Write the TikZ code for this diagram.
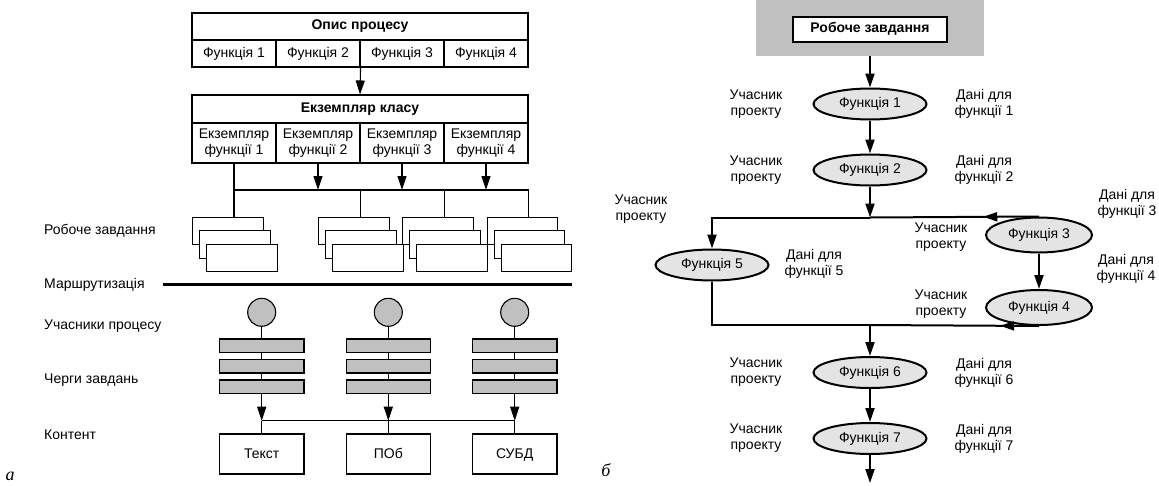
\documentclass[tikz,border=0pt]{standalone}
\usepackage{fontspec}
\setmainfont{Liberation Sans}
\newfontfamily\sigfont{Liberation Serif}
\usetikzlibrary{arrows.meta,shapes.geometric,decorations.markings}
\definecolor{qgray}{HTML}{C0C0C0}
\definecolor{fgray}{HTML}{E4E4E4}
\tikzset{
  font={\fontsize{14pt}{16pt}\selectfont}}

\begin{document}
\begin{tikzpicture}[x=1pt,y=1pt]
\tikzstyle{every node}+=[inner sep=0pt]
\tikzstyle{cell}=[draw,line width=1.1pt,fill=white,minimum width=84pt,minimum height=27pt]
\tikzstyle{zbox}=[draw,line width=1.1pt,fill=white,minimum width=70.5pt,minimum height=27.5pt,anchor=north west]
\tikzstyle{qbar}=[draw,line width=1.1pt,fill=qgray,minimum width=84.5pt,minimum height=13.5pt]
\tikzstyle{fn}=[ellipse,draw,line width=2pt,fill=fgray,minimum width=113pt,minimum height=31pt]
\tikzstyle{lbl}=[align=center]
\tikzstyle{arr}=[line width=1.1pt,-{Triangle[length=14pt,width=9pt]}]
\tikzstyle{rarr}=[line width=2pt,-{Triangle[length=14pt,width=9pt]}]
\useasboundingbox (0,0) rectangle (1159,-485);

% a
\node[cell,minimum width=336pt] (opys) at (360,-26.5) {\bfseries Опис процесу};
\foreach \i/\x in {1/234,2/318,3/402,4/486}
  \node[cell] (f\i) at (\x,-53.5) {Функція \i};
\node[cell,minimum width=336pt,minimum height=28pt] (klas) at (360,-109) {\bfseries Екземпляр класу};
\foreach \i/\x in {1/234,2/318,3/402,4/486}
  \node[cell,minimum height=40pt,align=center] (e\i) at (\x,-143) {Екземпляр\\функції \i};
\draw[arr] (f2.south east) -- (klas.north);

\foreach \i/\x in {1/192,2/318,3/402,4/486.7} {
  \node[zbox] (s\i-a) at (\x,-216.7) {};
  \node[zbox] (s\i-b) at (\x+7,-230) {};
  \node[zbox] (s\i-c) at (\x+14,-243.5) {};
}
\coordinate (bus) at (0,-190);
\draw[line width=1.1pt] (e1.south) -- (s1-a.north -| e1.south);
\draw[line width=1.1pt] (e1.south |- bus) -- (bus -| e4.south east);
\foreach \i in {2,3,4}
  \draw[arr] (e\i.south) -- (e\i.south |- bus);
\draw[line width=1.1pt] (bus -| e2.south east) -- (s2-a.north -| e2.south east);
\draw[line width=1.1pt] (bus -| e3.south east) -- (s3-a.north -| e3.south east);
\draw[line width=1.1pt] (bus -| e4.south east) -- (s4-a.north -| e4.south east);

\coordinate (r1) at (162.7,-284.7);
\coordinate (r2) at (572,-284.7);
\draw[line width=3.5pt] (r1) -- (r2);

\coordinate (bus2) at (0,-420.7);
\foreach \i/\x/\t in {1/261.7/Текст,2/388.3/ПОб,3/514.7/СУБД} {
  \node[circle,draw,line width=1.1pt,fill=qgray,minimum size=28pt] (p\i) at (\x,-312.3) {};
  \foreach \j/\y in {1/345.7,2/366.2,3/386.7}
    \node[qbar] (q\i-\j) at (\x,-\y) {};
  \node[cell,minimum width=84.5pt,minimum height=40pt,text height=10pt,text depth=2pt] (c\i) at (\x,-454) {\t};
  \draw[line width=1.1pt] (p\i) -- (q\i-1);
  \draw[line width=1.1pt] (q\i-1) -- (q\i-2);
  \draw[line width=1.1pt] (q\i-2) -- (q\i-3);
  \draw[arr] (q\i-3) -- (q\i-3 |- bus2);
  \draw[line width=1.1pt] (q\i-3 |- bus2) -- (c\i);
}
\draw[line width=1.1pt] (c1.north |- bus2) -- (c3.north |- bus2);

\node[anchor=west] (l1) at (44,-231) {Робоче завдання};
\node[anchor=west] (l2) at (44,-285.3) {Маршрутизація};
\node[anchor=west] (l3) at (44,-325.7) {Учасники процесу};
\node[anchor=west] (l4) at (44,-380) {Черги завдань};
\node[anchor=west] (l5) at (44,-435) {Контент};
\node (sa) at (10,-476) {\sigfont\itshape\fontsize{18pt}{18pt}\selectfont а};

% b
\node[fill=qgray,minimum width=228pt,minimum height=56pt] (back) at (870,-28) {};
\node[draw,line width=2.2pt,fill=white,minimum width=154pt,minimum height=25pt] (task) at (870,-29.2) {\bfseries Робоче завдання};
\node[fn] (fn1) at (870,-104) {Функція 1};
\node[fn] (fn2) at (870,-170) {Функція 2};
\node[fn,minimum width=106pt,minimum height=35pt] (fn3) at (1039,-235) {Функція 3};
\node[fn,minimum width=106pt,minimum height=35pt] (fn4) at (1039,-307.5) {Функція 4};
\node[fn] (fn5) at (712,-265) {Функція 5};
\node[fn] (fn6) at (870,-372.5) {Функція 6};
\node[fn] (fn7) at (870,-438.5) {Функція 7};
\coordinate (split) at (870,-217.5);
\coordinate (join) at (870,-325);
\coordinate (out) at (870,-483);

\draw[rarr] (back.south) -- (fn1.north);
\draw[rarr] (fn1) -- (fn2);
\draw[rarr] (fn2) -- (split);
\draw[rarr] (split) -| (fn5.north);
\draw[line width=2pt,postaction=decorate,decoration={markings,
  mark=at position 0.33 with {\arrow{Triangle[length=14pt,width=9pt]}}}] (fn3.north) -- (split);
\draw[rarr] (fn3) -- (fn4);
\draw[line width=2pt] (fn5.south) |- (join);
\draw[line width=2pt,postaction=decorate,decoration={markings,
  mark=at position 0.23 with {\arrow{Triangle[length=14pt,width=9pt]}}}] (fn4.south) -- (join);
\draw[rarr] (join) -- (fn6.north);
\draw[rarr] (fn6) -- (fn7);
\draw[rarr] (fn7) -- (out);

\node[lbl] (u1) at (756,-104) {Учасник\\проекту};
\node[lbl] (u2) at (756,-170) {Учасник\\проекту};
\node[lbl] (u5) at (641,-209.5) {Учасник\\проекту};
\node[lbl] (u3) at (941,-237.5) {Учасник\\проекту};
\node[lbl] (u4) at (941,-304) {Учасник\\проекту};
\node[lbl] (u6) at (756,-372.5) {Учасник\\проекту};
\node[lbl] (u7) at (756,-438.5) {Учасник\\проекту};
\node[lbl] (d1) at (984,-104) {Дані для\\функції 1};
\node[lbl] (d2) at (984,-170) {Дані для\\функції 2};
\node[lbl] (d3) at (1127,-204) {Дані для\\функції 3};
\node[lbl] (d4) at (1126,-269) {Дані для\\функції 4};
\node[lbl] (d5) at (814,-264) {Дані для\\функції 5};
\node[lbl] (d6) at (984,-372.5) {Дані для\\функції 6};
\node[lbl] (d7) at (984,-438.5) {Дані для\\функції 7};
\node (sb) at (606,-470) {\sigfont\itshape\fontsize{18pt}{18pt}\selectfont б};
\end{tikzpicture}
\end{document}
